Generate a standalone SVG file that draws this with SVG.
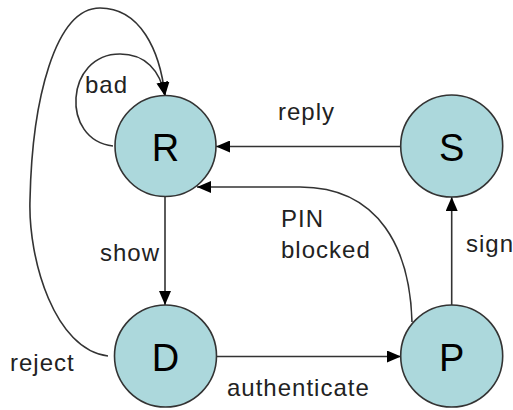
<svg xmlns="http://www.w3.org/2000/svg" width="513" height="410" viewBox="0 0 513 410">
<defs>
<style>
.node circle{fill:#acd8dc;stroke:#333;stroke-width:1.6}
.node text{font-family:"Liberation Sans",Arial,sans-serif;font-size:38px;fill:#000;text-anchor:middle}
.edge{fill:none;stroke:#333;stroke-width:1.6;marker-end:url(#arr)}
.lbl{font-family:"Liberation Sans",Arial,sans-serif;font-size:24px;letter-spacing:1px;fill:#222}
</style>
<marker id="arr" markerUnits="userSpaceOnUse" markerWidth="15" markerHeight="12" refX="14" refY="6" orient="auto">
<path d="M0,0 L14,6 L0,12 z" fill="#000"/>
</marker>
</defs>
<rect width="513" height="410" fill="#fff"/>
<g id="connectors">
<path class="edge" d="M401,146.5 L216,146.5"/>
<path class="edge" d="M412,322 C410,250 380,187 300,187 L197,187"/>
<path class="edge" d="M451.7,305 L451.7,197"/>
<path class="edge" d="M165,197 L165,305"/>
<path class="edge" d="M216,356.5 L401,356.5"/>
<path class="edge" d="M113,146 C60,140 65,54 120,54 C145,54 160,70 165,96"/>
<path class="edge" d="M108,356 C55,350 28,260 30,200 C32,100 55,8 100,8 C140,8 160,50 165,96"/>
</g>
<g id="node-R" class="node"><circle cx="165.5" cy="146" r="50.5"/><text x="165.5" y="161">R</text></g>
<g id="node-S" class="node"><circle cx="451.7" cy="146" r="51"/><text x="451.7" y="161">S</text></g>
<g id="node-D" class="node"><circle cx="165.5" cy="356" r="51"/><text x="165.5" y="371">D</text></g>
<g id="node-P" class="node"><circle cx="451.7" cy="356" r="51"/><text x="451.7" y="371">P</text></g>
<g id="labels">
<text class="lbl" x="85" y="93">bad</text>
<text class="lbl" x="278" y="120">reply</text>
<text class="lbl" x="281" y="227">PIN</text>
<text class="lbl" x="281" y="258">blocked</text>
<text class="lbl" x="100" y="261">show</text>
<text class="lbl" x="466" y="252">sign</text>
<text class="lbl" x="10" y="371">reject</text>
<text class="lbl" x="227" y="396">authenticate</text>
</g>
</svg>
